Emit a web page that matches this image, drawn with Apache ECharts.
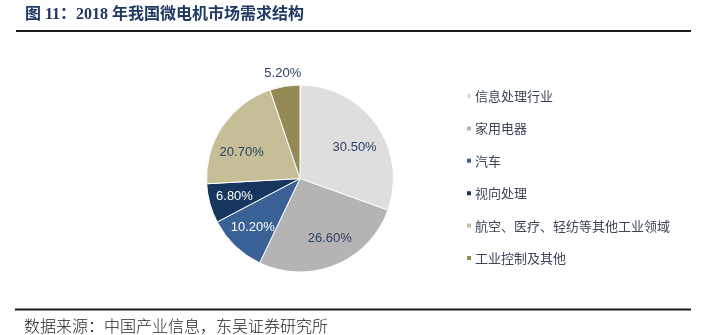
<!DOCTYPE html>
<html>
<head>
<meta charset="utf-8">
<title>2018 年我国微电机市场需求结构</title>
<script src="https://cdn.jsdelivr.net/npm/echarts@6/dist/echarts.min.js"></script>
<style>
  html, body { margin: 0; padding: 0; background: #fff; }
  #chart { width: 723px; height: 335px; }
</style>
</head>
<body>
<div id="chart"></div>
<script>
// Demand structure of China's micro-motor market, 2018 (share, %)
const categories = ['信息处理行业', '家用电器', '汽车', '视向处理', '航空、医疗、轻纺等其他工业领域', '工业控制及其他'];
const shares = [30.5, 26.6, 10.2, 6.8, 20.7, 5.2];
const sliceColors = ['#DEDEDE', '#B4B4B4', '#3A6195', '#17365D', '#C5BE97', '#938A55'];
const labelColors = ['#2E4164', '#2E4164', '#FFFFFF', '#FFFFFF', '#2E4164', '#2E4164'];
// Which slices carry their value label outside the pie
const outsideLabel = [false, false, false, false, false, true];

const titleText = '图 11：2018 年我国微电机市场需求结构';
const sourceText = '数据来源：中国产业信息，东吴证券研究所';

const CENTER = [300, 178.5];
const RADIUS = 93.5;

// Small nudges so the inside labels sit where they read best in each slice
const labelNudge = { 0: [-1, 8], 1: [4, -3], 4: [-2, 12] };

const latin = '"Liberation Sans", Arial, "Noto Sans CJK SC", sans-serif';

function fmt(v) { return v.toFixed(2) + '%'; }

const pieData = categories.map((name, i) => ({
  name,
  value: shares[i],
  itemStyle: { color: sliceColors[i] }
}));

// Transparent twin of the pie whose only job is placing value labels
function labelLayer(radiusOuter, pick) {
  return {
    type: 'pie',
    silent: true,
    center: CENTER,
    radius: [0, radiusOuter],
    startAngle: 90,
    clockwise: true,
    legendHoverLink: false,
    z: 5,
    itemStyle: { color: 'rgba(0,0,0,0)', borderWidth: 0 },
    labelLine: { show: false },
    emphasis: { disabled: true },
    data: categories.map((name, i) => ({
      name,
      value: shares[i],
      label: {
        show: pick(i),
        position: 'inside',
        formatter: fmt(shares[i]),
        color: labelColors[i],
        fontSize: 13,
        fontFamily: latin,
        offset: labelNudge[i] || [0, 0]
      }
    }))
  };
}

const chart = echarts.init(document.getElementById('chart'), null, { renderer: 'canvas' });

chart.setOption({
  animation: false,
  backgroundColor: '#fff',
  color: sliceColors,
  legend: {
    orient: 'vertical',
    left: 465,
    top: 89.5,
    padding: 0,
    itemWidth: 6,
    itemHeight: 6,
    itemGap: 19.4,
    icon: 'rect',
    selectedMode: false,
    data: categories,
    textStyle: {
      fontSize: 13,
      lineHeight: 13,
      color: '#3D4656',
      fontFamily: '"Noto Sans CJK SC", sans-serif',
      padding: [0, 0, 0, -2]
    }
  },
  series: [
    {
      type: 'pie',
      center: CENTER,
      radius: [0, RADIUS],
      startAngle: 90,
      clockwise: true,
      z: 2,
      itemStyle: { borderColor: '#FFFFFF', borderWidth: 1 },
      label: { show: false },
      labelLine: { show: false },
      emphasis: { disabled: true },
      data: pieData
    },
    labelLayer(130, i => !outsideLabel[i]),
    labelLayer(206, i => outsideLabel[i])
  ],
  graphic: [
    {
      type: 'text',
      left: 25,
      top: 7,
      style: {
        text: titleText,
        fontSize: 16,
        fontWeight: 'bold',
        fontFamily: '"Liberation Serif", "Noto Sans CJK SC", serif',
        fill: '#1F3962'
      }
    },
    {
      type: 'line',
      shape: { x1: 16, y1: 31, x2: 691, y2: 31 },
      style: { stroke: '#1A1A1A', lineWidth: 2 }
    },
    {
      type: 'line',
      shape: { x1: 15, y1: 309.5, x2: 691, y2: 309.5 },
      style: { stroke: '#1A1A1A', lineWidth: 1.8 }
    },
    {
      type: 'text',
      left: 24,
      top: 318,
      style: {
        text: sourceText,
        fontSize: 16,
        fontFamily: '"Noto Sans CJK SC", sans-serif',
        fontWeight: 300,
        fill: '#222222'
      }
    }
  ]
});
</script>
</body>
</html>
